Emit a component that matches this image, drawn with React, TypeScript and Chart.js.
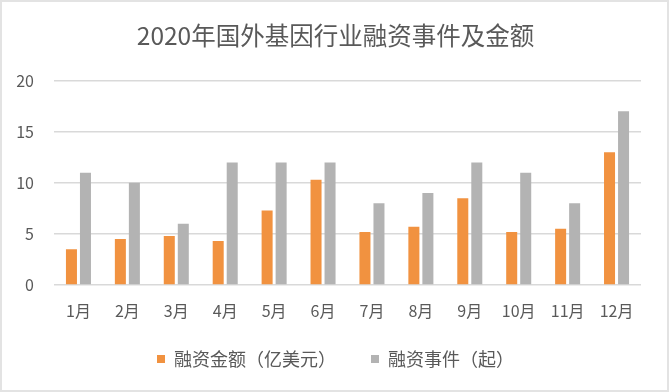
import React, { useEffect, useRef } from "react";
import { Chart, registerables } from "chart.js";

Chart.register(...registerables);

const TITLE = "2020年国外基因行业融资事件及金额";
const MONTHS = ["1月", "2月", "3月", "4月", "5月", "6月", "7月", "8月", "9月", "10月", "11月", "12月"];
const AMOUNT_LABEL = "融资金额（亿美元）";
const AMOUNT = [3.5, 4.5, 4.8, 4.3, 7.3, 10.3, 5.2, 5.7, 8.5, 5.2, 5.5, 13.0];
const EVENTS_LABEL = "融资事件（起）";
const EVENTS = [11, 10, 6, 12, 12, 12, 8, 9, 12, 11, 8, 17];
const Y_MIN = 0;
const Y_MAX = 20;
const Y_STEP = 5;
const Y_TICK_TEXTS = ["0", "5", "10", "15", "20"];

const FONT = "'Noto Sans CJK SC', 'Noto Sans', sans-serif";
const TEXT = "#595959";

export default function App() {
  const ref = useRef<HTMLCanvasElement | null>(null);

  useEffect(() => {
    if (!ref.current) return;
    const mctx = document.createElement("canvas").getContext("2d")!;
    mctx.font = `normal 16px ${FONT}`;
    const widest = Math.max(...Y_TICK_TEXTS.map((t) => mctx.measureText(t).width));
    const chart = new Chart(ref.current, {
      type: "bar",
      data: {
        labels: MONTHS,
        datasets: [
          {
            label: AMOUNT_LABEL,
            data: AMOUNT,
            backgroundColor: "#F19240",
            categoryPercentage: 0.573,
            barPercentage: 0.786,
          },
          {
            label: EVENTS_LABEL,
            data: EVENTS,
            backgroundColor: "#B3B3B3",
            categoryPercentage: 0.573,
            barPercentage: 0.786,
          },
        ],
      },
      options: {
        animation: false,
        responsive: false,
        maintainAspectRatio: false,
        layout: { padding: { left: 30, right: 28, top: 0, bottom: 14 } },
        plugins: {
          title: {
            display: true,
            text: TITLE,
            color: TEXT,
            font: { family: FONT, size: 24.5, weight: "normal" },
            padding: { top: 21, bottom: 30.3 },
          },
          legend: {
            display: true,
            position: "bottom",
            labels: {
              boxWidth: 8,
              boxHeight: 8,
              padding: 35,
              color: TEXT,
              font: { family: FONT, size: 18 },
            },
          },
          tooltip: { enabled: false },
        },
        scales: {
          x: {
            grid: { display: false, drawTicks: false },
            border: { display: false },
            ticks: {
              color: TEXT,
              font: { family: FONT, size: 16 },
              mirror: true,
              padding: -35.6,
              maxRotation: 0,
            },
            afterFit: (s: any) => {
              s.height = 30;
            },
          },
          y: {
            min: Y_MIN,
            max: Y_MAX,
            grid: { color: "#d9d9d9", lineWidth: 1.5, drawTicks: false },
            border: { display: false },
            ticks: {
              stepSize: Y_STEP,
              color: TEXT,
              font: { family: FONT, size: 16 },
              mirror: true,
              crossAlign: "far",
              padding: -20 - widest,
            },
            afterFit: (s: any) => {
              s.width = 24;
            },
          },
        },
      },
    });
    return () => chart.destroy();
  }, []);

  return (
    <div style={{ position: "fixed", left: 0, top: 0, width: 669, height: 392, background: "#fff" }}>
      <canvas ref={ref} width={669} height={392} style={{ position: "absolute", left: 0, top: 0 }} />
      <div
        style={{
          position: "absolute",
          left: 0,
          top: 0,
          width: 669,
          height: 392,
          boxSizing: "border-box",
          border: "2px solid #e3e3e3",
          pointerEvents: "none",
        }}
      />
    </div>
  );
}
